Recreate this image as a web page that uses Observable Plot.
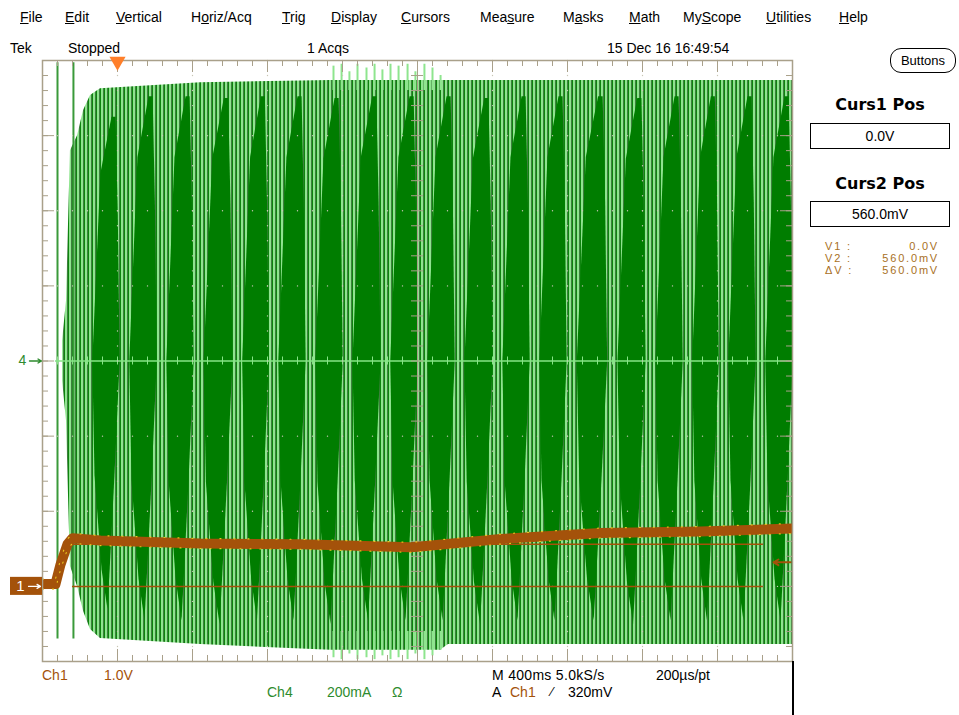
<!DOCTYPE html>
<html>
<head>
<meta charset="utf-8">
<script src="https://cdn.jsdelivr.net/npm/d3@7"></script>
<script src="https://cdn.jsdelivr.net/npm/@observablehq/plot@0.6"></script>
<style>
  html, body { margin: 0; padding: 0; background: #fff; }
  #wrap { position: relative; width: 959px; height: 715px; overflow: hidden; font-family: "Liberation Sans", Arial, sans-serif; color: #000; }
  .t { position: absolute; white-space: nowrap; font-size: 14px; line-height: 16px; }
  .menu u { text-decoration: underline; }
  #chart { position: absolute; left: 0; top: 0; }
  .box { position: absolute; border: 1px solid #000; text-align: center; font-size: 13px; box-sizing: border-box; }
  .hdr { position: absolute; font-weight: bold; font-size: 16px; line-height: 18px; width: 140px; text-align: center; left: 810px; font-family: "DejaVu Sans", sans-serif; }
  .ro { position: absolute; left: 825px; width: 112px; font-size: 11px; line-height: 12px; height: 12px; color: #a8701e; letter-spacing: 1.8px; }
  .ro span { position: absolute; right: -2px; top: 0; }
</style>
</head>
<body>
<div id="wrap">
  <div id="chart"></div>
</div>
<script>
// ---------- data ----------
// time axis: 400 ms/div, 10 divisions; trigger position = 0 ms
const timeDomain = [-400, 3600];
// Ch1 (1.0 V/div, ground at -3 div)
const ch1Times = [-400, -331, -304, -267, -240, -91, 443, 976, 1563, 1616, 2043, 2576, 3109, 3600];
const ch1Volts = [0.03, 0.03, 0.29, 0.56, 0.64, 0.61, 0.57, 0.56, 0.52, 0.53, 0.63, 0.71, 0.73, 0.77];
const ch1Offset = -3;      // divisions
const ch1Scale = 1.0;      // V/div
// Ch4 (200 mA/div, centred) envelope of the fast current waveform
const ch4Scale = 200;      // mA/div
const envTimes  = [-293, -272, -251, -213, -181, -144, -91, 443, 1136, 1723, 1765, 3600];
const envTop    = [53, 160, 560, 600, 667, 707, 725, 741, 747, 747, 747, 747];
const envBottom = [-53, -160, -547, -600, -667, -715, -739, -755, -770, -770, -755, -755];
// centres of the bright beat clusters (ms)
const lobeTimes = [-160, 37, 235, 432, 640, 832, 1029, 1227, 1429, 1627, 1824, 2027, 2224, 2421, 2640, 2843, 3040, 3232, 3429, 3627];
// how far the dark beat gaps reach toward the envelope (mA)
const gapTop    = [650, 705, 705, 700, 705, 705, 700, 705, 705, 705, 700, 705, 705, 705, 700, 705, 705, 705, 705];
const gapBottom = [-660, -690, -690, -700, -690, -690, -700, -690, -690, -690, -700, -690, -690, -690, -700, -690, -690, -690, -690];
// isolated early spikes (ms)
const spikeTimes = [-320, -235];
// tall samples overshooting the envelope in the middle of the record
const tallTimes  = [1152, 1195, 1237, 1280, 1328, 1371, 1413, 1456, 1499, 1547, 1589, 1637, 1680, 1723];
const tallTop    = [785, 790, 770, 790, 780, 790, 775, 790, 785, 790, 770, 790, 780, 760];
const tallBottom = [-790, -795, -780, -795, -790, -795, -785, -795, -790, -795, -780, -795, -785, -770];
// cursors (V on Ch1) and trigger
const cursorVolts = [0.0, 0.56];
const cursorSpan = [-240, 3445];
const triggerLevel = 0.32;   // V
const triggerTime = 0;       // ms

// ---------- helpers ----------
const msPerPx = 400 / 75;
const ch1Div = v => v / ch1Scale + ch1Offset;
const ch1 = ch1Times.map((t, i) => ({t, y: ch1Div(ch1Volts[i])}));
const env = envTimes.map((t, i) => ({t, top: envTop[i] / ch4Scale, bot: envBottom[i] / ch4Scale}));
const tall = tallTimes.map((t, i) => ({t, top: tallTop[i] / ch4Scale, bot: tallBottom[i] / ch4Scale}));
// dark beat gap outlines: vertices as fractions of the gap between two clusters
const upperShape = [[0.13, 0], [0.35, 0.77], [0.65, 1], [0.76, 1], [0.82, 0.6], [0.87, 0]];
const lowerShape = [[0.87, 0], [0.73, 0.46], [0.6, 0.84], [0.54, 1], [0.38, 0.84], [0.19, 0.46]];
const gaps = [];
for (let i = 0; i < lobeTimes.length - 1; i++) {
  const c0 = lobeTimes[i], g = lobeTimes[i + 1] - c0;
  for (const [f, h] of upperShape) gaps.push({id: i, t: c0 + f * g, y: h * gapTop[i] / ch4Scale});
  for (const [f, h] of lowerShape) gaps.push({id: i, t: c0 + f * g, y: h * gapBottom[i] / ch4Scale});
}
// graticule positions
const divX = d3.range(0, 11).map(k => timeDomain[0] + 400 * k);
const minorX = d3.range(0, 51).map(k => timeDomain[0] + 80 * k);
const divY = d3.range(-4, 5);
const minorY = d3.range(-20, 21).map(k => k / 5);
const dots = [];
for (const x of divX.slice(1, -1)) if (x !== 1600) for (const y of minorY) dots.push({x, y});
for (const y of divY.slice(1, -1)) if (y !== 0) for (const x of minorX) dots.push({x, y});

const tan = "#a9a08a";
const brown = "#a4520a";
const tickPx = v => v * msPerPx;
const font = "Liberation Sans, Arial, sans-serif";

const chart = Plot.plot({
  width: 959, height: 715,
  marginLeft: 42, marginRight: 167, marginTop: 60, marginBottom: 54,
  x: {domain: timeDomain, axis: null},
  y: {domain: [-4, 4], axis: null},
  style: {background: "transparent", overflow: "visible"},
  marks: [
    // Ch4 waveform envelope (bright striped samples)
    Plot.areaY(env, {x: "t", y1: "bot", y2: "top", fill: "url(#ch4stripes)", clip: true}),
    Plot.ruleX(tall, {x: "t", y1: "top", y2: 3.6, stroke: "#8ee58e", strokeWidth: 2, clip: true}),
    Plot.ruleX(tall, {x: "t", y1: "bot", y2: -3.6, stroke: "#8ee58e", strokeWidth: 2, clip: true}),
    // dark beat gaps
    Plot.line(gaps, {x: "t", y: "y", z: "id", fill: "#007d00", stroke: "none", curve: "linear-closed", clip: true}),
    // isolated early spikes
    Plot.ruleX(spikeTimes, {y1: -3.7, y2: 3.97, stroke: "#3a9a3a", strokeWidth: 2}),
    // Ch4 centre line
    Plot.ruleY([0], {x1: -331, x2: 3600, stroke: "#86e486", strokeWidth: 1.5}),
    Plot.ruleX(minorX, {y1: -4 / 75, y2: 4 / 75, stroke: "#86e486", strokeWidth: 1}),
    // graticule dots
    Plot.dot(dots, {x: "x", y: "y", r: 0.7, fill: "#c9c6b4", stroke: "none"}),
    // vertical centre line with ticks
    Plot.ruleX([1600], {stroke: tan, strokeWidth: 1}),
    Plot.ruleY(minorY, {x1: 1600 - tickPx(6), x2: 1600 + tickPx(6), stroke: tan, strokeWidth: 1}),
    // border ticks
    Plot.ruleX(minorX, {y1: 4, y2: 4 - 6 / 75, stroke: tan}),
    Plot.ruleX(minorX, {y1: -4, y2: -4 + 6 / 75, stroke: tan}),
    Plot.ruleX(divX, {y1: 4, y2: 4 - 12 / 75, stroke: tan}),
    Plot.ruleX(divX, {y1: -4, y2: -4 + 12 / 75, stroke: tan}),
    Plot.ruleY(minorY, {x1: timeDomain[0], x2: timeDomain[0] + tickPx(6), stroke: tan}),
    Plot.ruleY(minorY, {x1: timeDomain[1], x2: timeDomain[1] - tickPx(6), stroke: tan}),
    Plot.ruleY(divY, {x1: timeDomain[0], x2: timeDomain[0] + tickPx(12), stroke: tan}),
    Plot.ruleY(divY, {x1: timeDomain[1], x2: timeDomain[1] - tickPx(12), stroke: tan}),
    // cursors
    Plot.ruleY(cursorVolts, {y: d => ch1Div(d), x1: cursorSpan[0], x2: cursorSpan[1], stroke: brown, strokeWidth: 1.5}),
    // Ch1 trace
    Plot.line(ch1, {x: "t", y: "y", stroke: brown, strokeWidth: 10, strokeLinejoin: "round", clip: true}),
    Plot.line(ch1, {x: "t", y: "y", stroke: "#e6c21e", strokeWidth: 1.2, strokeDasharray: "1 9", dy: 5, clip: true}),
    Plot.line(ch1, {x: "t", y: "y", stroke: "#e6c21e", strokeWidth: 1.2, strokeDasharray: "1 13", dy: -5, clip: true}),
    // frame
    Plot.frame({stroke: tan, strokeWidth: 1.5}),
    // trigger level arrow (right edge)
    Plot.arrow([triggerLevel], {x1: timeDomain[1] - tickPx(2), x2: timeDomain[1] - tickPx(19), y1: d => ch1Div(d), y2: d => ch1Div(d), stroke: brown, strokeWidth: 2, headLength: 7}),
    // trigger position marker
    Plot.dot([triggerTime], {x: d => d, y: 4, symbol: "triangle", rotate: 180, r: 6, fill: "#ff7f2a", stroke: "none", dy: 1}),
    // Ch4 ground marker
    Plot.text([0], {x: timeDomain[0] - tickPx(20), y: 0, text: () => "4", fill: "#2e8b2e", fontSize: 14, fontFamily: font}),
    Plot.arrow([0], {x1: timeDomain[0] - tickPx(13), x2: timeDomain[0] - tickPx(1), y1: 0, y2: 0, stroke: "#2e8b2e", strokeWidth: 1.4, headLength: 5}),
    // Ch1 ground marker
    Plot.rect([ch1Offset], {x1: timeDomain[0] - tickPx(32), x2: timeDomain[0], y1: d => d - 9 / 75, y2: d => d + 9 / 75, fill: brown}),
    Plot.text([ch1Offset], {x: timeDomain[0] - tickPx(22), y: d => d, text: () => "1", fill: "#fff", fontSize: 15, fontFamily: font}),
    Plot.arrow([ch1Offset], {x1: timeDomain[0] - tickPx(14), x2: timeDomain[0] - tickPx(2), y1: d => d, y2: d => d, stroke: "#fff", strokeWidth: 1.2, headLength: 5})
  ]
});
const ns = "http://www.w3.org/2000/svg";
const defs = document.createElementNS(ns, "defs");
defs.innerHTML = '<pattern id="ch4stripes" patternUnits="userSpaceOnUse" width="4" height="8"><rect width="4" height="8" fill="#0e840e"/><rect x="1" width="2" height="8" fill="#8fe48f"/><rect x="3" width="1" height="8" fill="#3f7f3f"/></pattern>';
chart.insertBefore(defs, chart.firstChild);
document.getElementById("chart").appendChild(chart);

// ---------- surrounding text (HTML) ----------
const wrap = document.getElementById("wrap");
function add(html, left, top, cls = "t", style = "") {
  const d = document.createElement("div");
  d.className = cls; d.innerHTML = html;
  d.style.cssText = `left:${left}px;top:${top}px;${style}`;
  wrap.appendChild(d); return d;
}
const menu = [["<u>F</u>ile", 20], ["<u>E</u>dit", 65], ["<u>V</u>ertical", 116], ["H<u>o</u>riz/Acq", 191], ["<u>T</u>rig", 282], ["<u>D</u>isplay", 331], ["<u>C</u>ursors", 401], ["Mea<u>s</u>ure", 480], ["M<u>a</u>sks", 563], ["<u>M</u>ath", 629], ["My<u>S</u>cope", 683], ["<u>U</u>tilities", 766], ["<u>H</u>elp", 839]];
for (const [m, x] of menu) add(m, x, 9, "t menu", "font-size:14px");
add("Tek", 10, 40);
add("Stopped", 68, 40);
add("1 Acqs", 307, 40);
add("15 Dec 16 16:49:54", 607, 40);
add("Buttons", 890, 48, "box", "width:66px;height:25px;line-height:23px;border-radius:11px;font-size:13px");
add("Curs1 Pos", 810, 96, "hdr");
add("0.0V", 810, 123, "box", "width:140px;height:26px;line-height:24px;font-size:14px");
add("Curs2 Pos", 810, 175, "hdr");
add("560.0mV", 810, 201, "box", "width:140px;height:26px;line-height:24px;font-size:14px");
add("V1 :<span>0.0V</span>", 825, 240, "ro");
add("V2 :<span>560.0mV</span>", 825, 252, "ro");
add("ΔV :<span>560.0mV</span>", 825, 264, "ro");
// bottom readouts
add("Ch1", 42, 667, "t", "color:#a4520a");
add("1.0V", 104, 667, "t", "color:#a4520a");
add("Ch4", 267, 684, "t", "color:#2e8b2e");
add("200mA", 327, 684, "t", "color:#2e8b2e");
add("Ω", 392, 684, "t", "color:#2e8b2e");
add("M 400ms 5.0kS/s", 492, 667, "t", "letter-spacing:0.3px");
add("200µs/pt", 656, 667);
add("A", 492, 684);
add("Ch1", 510, 684, "t", "color:#a4520a");
add("⁄", 551, 684, "t", "font-size:13px");
add("320mV", 568, 684);
const sep = document.createElement("div");
sep.style.cssText = "position:absolute;left:792px;top:661px;width:2px;height:54px;background:#000";
wrap.appendChild(sep);
</script>
</body>
</html>
